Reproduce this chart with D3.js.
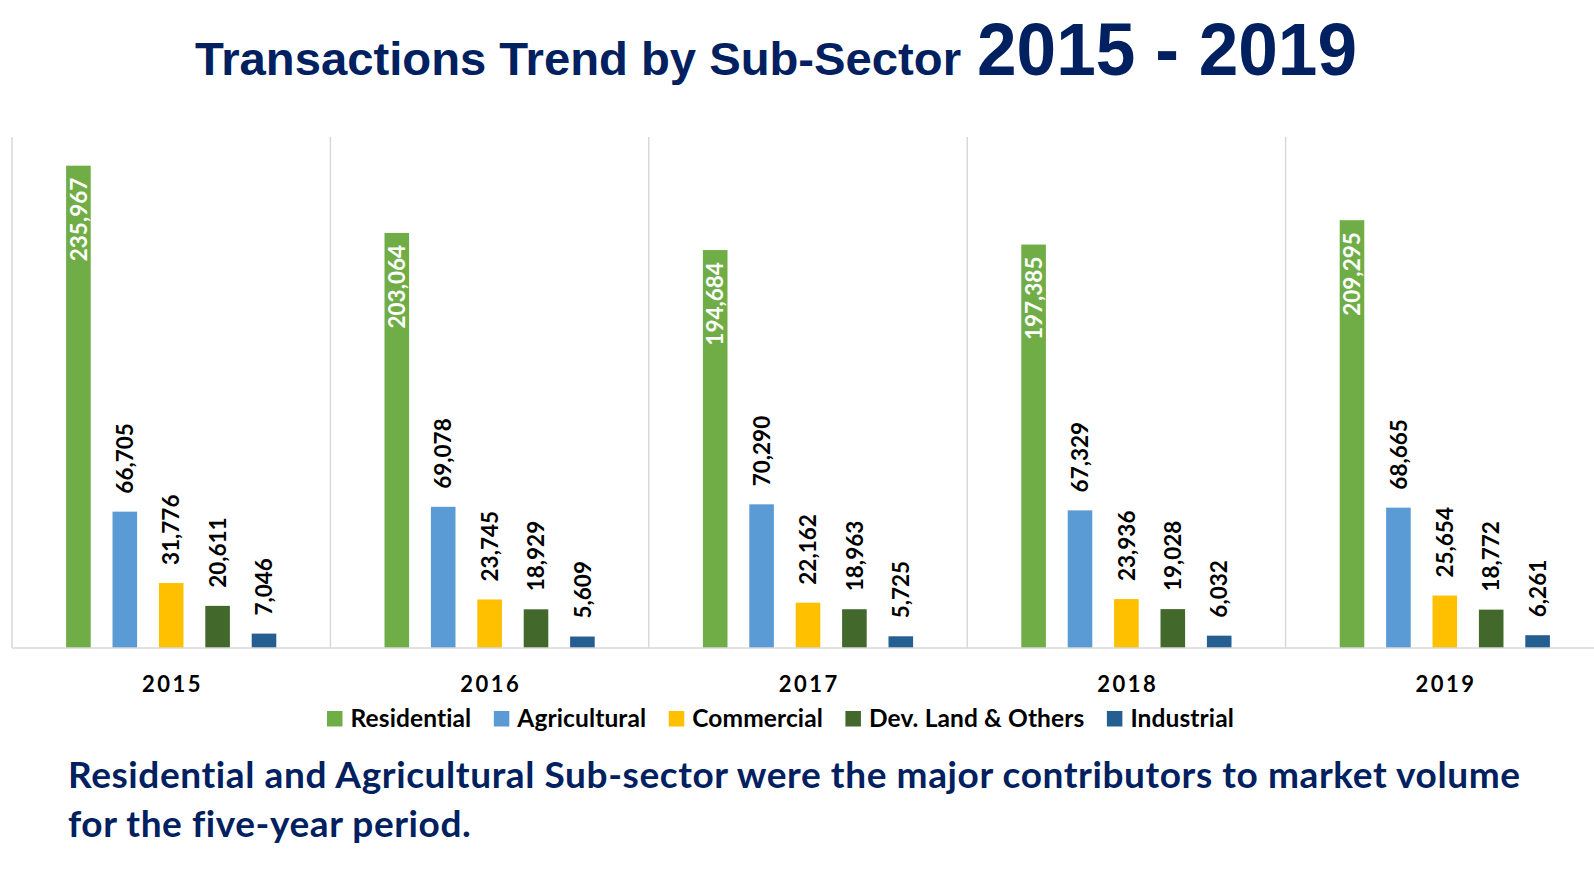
<!DOCTYPE html>
<html>
<head>
<meta charset="utf-8">
<script src="https://cdn.jsdelivr.net/npm/d3@7"></script>
<style>
    body { margin: 0; background: #fff; }
    svg { display: block; }
    text { font-variant-ligatures: none; }
</style>
</head>
<body>
<div id="chart"></div>
<script>
const years = ["2015", "2016", "2017", "2018", "2019"];
const sectors = ["Residential", "Agricultural", "Commercial", "Dev. Land & Others", "Industrial"];
const sectorColors = ["#70AD47", "#5B9BD5", "#FFC000", "#43682B", "#255E91"];

const residential = [235967, 203064, 194684, 197385, 209295];
const agricultural = [66705, 69078, 70290, 67329, 68665];
const commercial = [31776, 23745, 22162, 23936, 25654];
const devLand = [20611, 18929, 18963, 19028, 18772];
const industrial = [7046, 5609, 5725, 6032, 6261];

const seriesValues = [residential, agricultural, commercial, devLand, industrial];

const titleMain = "Transactions Trend by Sub-Sector";
const titleYears = "2015 - 2019";
const noteLines = [
    "Residential and Agricultural Sub-sector were the major contributors to market volume",
    "for the five-year period."
];

const width = 1594, height = 870;
const navy = "#002060";
const gridColor = "#d9d9d9";

// rows for drawing: one per year/sector pair
const rows = [];
years.forEach((yr, i) => {
    sectors.forEach((s, j) => {
        rows.push({ year: yr, sector: s, value: seriesValues[j][i], color: sectorColors[j] });
    });
});

const svg = d3.select("#chart").append("svg")
    .attr("width", width)
    .attr("height", height)
    .attr("viewBox", [0, 0, width, height]);

svg.append("rect").attr("width", width).attr("height", height).attr("fill", "#fff");

// title
const title = svg.append("text")
    .attr("x", 195)
    .attr("y", 75)
    .attr("fill", navy)
    .attr("font-family", "'Liberation Sans', Arial, sans-serif")
    .attr("font-weight", "bold");
title.append("tspan")
    .attr("font-size", 46.5)
    .attr("textLength", 766)
    .attr("lengthAdjust", "spacingAndGlyphs")
    .text(titleMain);
title.append("tspan")
    .attr("x", 977)
    .attr("font-size", 74)
    .attr("textLength", 380)
    .attr("lengthAdjust", "spacingAndGlyphs")
    .text(titleYears);

// scales
const x0 = d3.scaleBand()
    .domain(years)
    .range([12, 1604])
    .padding(0);

const x1 = d3.scaleBand()
    .domain(sectors)
    .range([0, x0.bandwidth()])
    .paddingInner(0.47)
    .paddingOuter(1.166);

const y = d3.scaleLinear()
    .domain([0, 250000])
    .range([648, 137]);

// group separators
const bounds = years.map(d => x0(d)).concat([x0.range()[1]]);
svg.append("g")
    .selectAll("line")
    .data(bounds)
    .join("line")
    .attr("x1", d => d)
    .attr("x2", d => d)
    .attr("y1", y.range()[1])
    .attr("y2", y(0))
    .attr("stroke", gridColor)
    .attr("stroke-width", 1.5);

// bars
svg.append("g")
    .selectAll("rect")
    .data(rows)
    .join("rect")
    .attr("x", d => x0(d.year) + x1(d.sector))
    .attr("y", d => y(d.value))
    .attr("width", x1.bandwidth())
    .attr("height", d => y(0) - y(d.value))
    .attr("fill", d => d.color);

// baseline
svg.append("line")
    .attr("x1", x0.range()[0])
    .attr("x2", x0.range()[1])
    .attr("y1", y(0))
    .attr("y2", y(0))
    .attr("stroke", gridColor)
    .attr("stroke-width", 1.5);

// value labels, rotated
const fmt = d3.format(",");
svg.append("g")
    .selectAll("text")
    .data(rows)
    .join("text")
    .attr("transform", d => {
        const cx = x0(d.year) + x1(d.sector) + x1.bandwidth() / 2;
        const inside = d.sector === sectors[0];
        const ty = inside ? y(d.value) + 12 : y(d.value) - 18;
        return `translate(${cx},${ty}) rotate(-90)`;
    })
    .attr("dy", "0.36em")
    .attr("text-anchor", d => d.sector === sectors[0] ? "end" : "start")
    .attr("fill", d => d.sector === sectors[0] ? "#fff" : "#000")
    .attr("font-family", "Lato, sans-serif")
    .attr("font-size", 22.5)
    .attr("font-weight", "bold")
    .text(d => fmt(d.value));

// year labels
svg.append("g")
    .selectAll("text")
    .data(years)
    .join("text")
    .attr("x", d => x0(d) + x0.bandwidth() / 2 + 1.25)
    .attr("y", 692)
    .attr("text-anchor", "middle")
    .attr("font-family", "Lato, sans-serif")
    .attr("font-size", 22)
    .attr("font-weight", "bold")
    .attr("letter-spacing", 2.5)
    .attr("fill", "#000")
    .text(d => d);

// legend
const legend = svg.append("g").attr("transform", "translate(327,711)");
let lx = 0;
sectors.forEach((s, j) => {
    const item = legend.append("g").attr("transform", `translate(${lx},0)`);
    item.append("rect")
        .attr("width", 15.5)
        .attr("height", 15.5)
        .attr("fill", sectorColors[j]);
    const t = item.append("text")
        .attr("x", 23.5)
        .attr("y", 15.5)
        .attr("font-family", "Lato, sans-serif")
        .attr("font-size", 24.5)
        .attr("font-weight", "bold")
        .attr("letter-spacing", 0.12)
        .attr("fill", "#000")
        .text(s);
    lx += 23.5 + t.node().getComputedTextLength() + 22.5;
});

// note below, first line stretched to the reference width
const note = svg.append("g")
    .selectAll("text")
    .data(noteLines)
    .join("text")
    .attr("x", 68)
    .attr("y", (d, i) => 788 + i * 48.5)
    .attr("font-family", "Lato, sans-serif")
    .attr("font-size", 37)
    .attr("font-weight", "bold")
    .attr("fill", navy)
    .text(d => d);
const firstLen = note.nodes()[0].getComputedTextLength();
const stretch = 1452 / firstLen;
note.attr("textLength", function () { return this.getComputedTextLength() * stretch; })
    .attr("lengthAdjust", "spacing");
</script>
</body>
</html>
